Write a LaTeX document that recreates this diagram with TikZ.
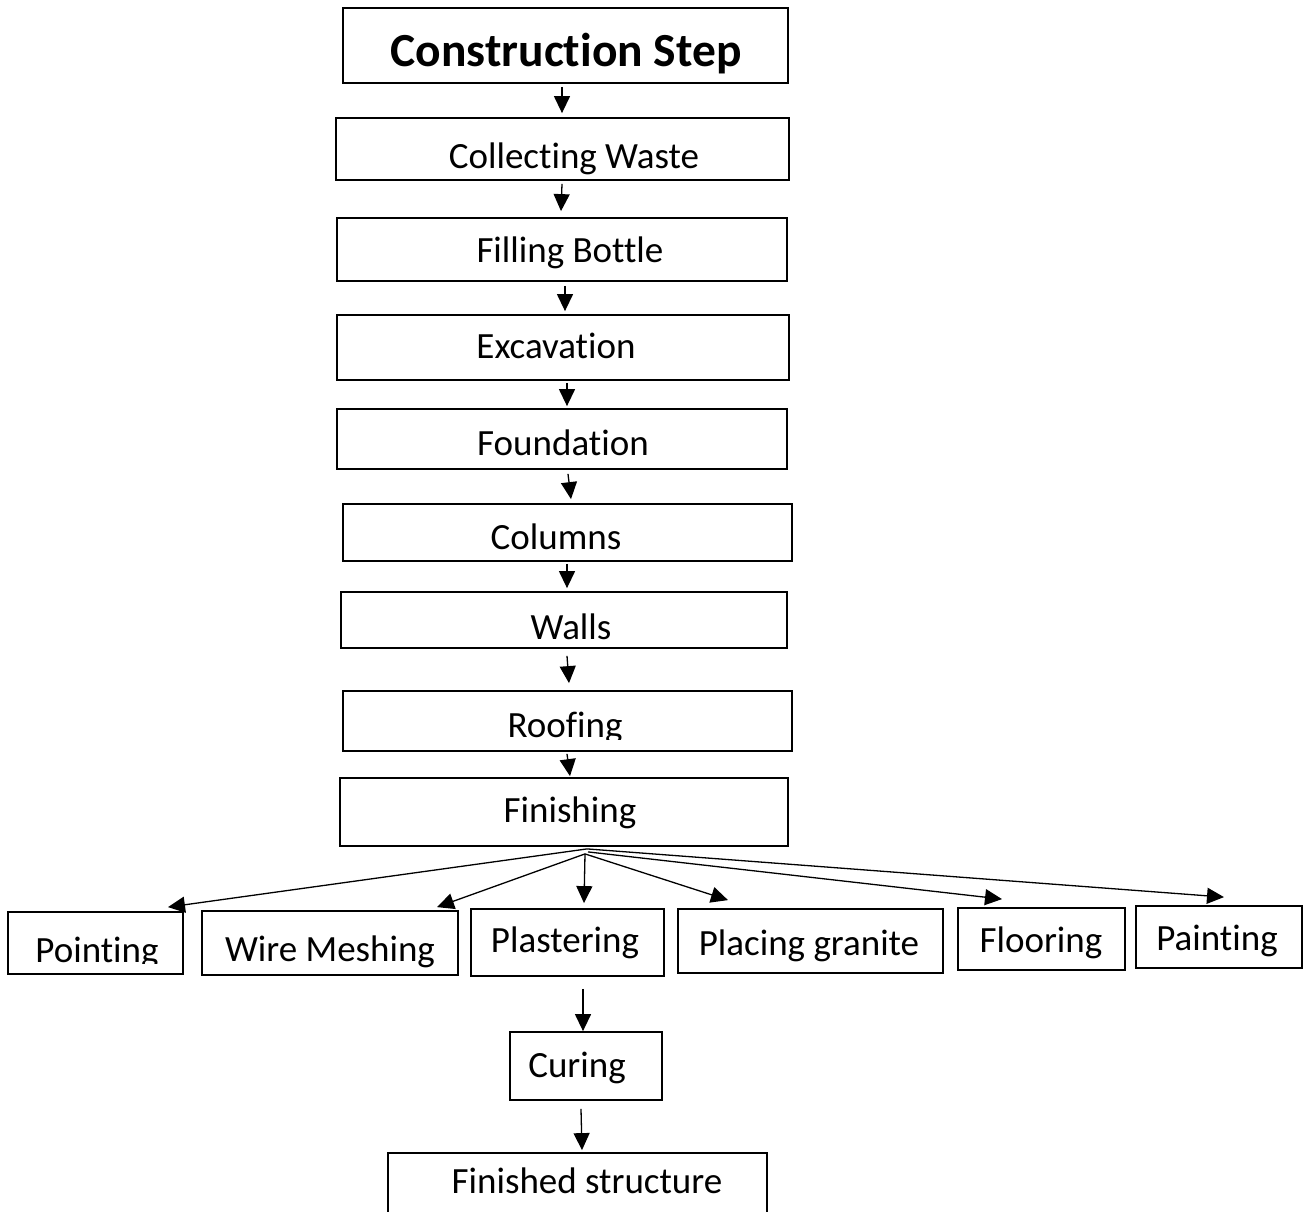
\documentclass[tikz,border=0pt]{standalone}
\usepackage{fontspec}
\setmainfont{Carlito}[RawFeature={-liga;-clig;-calt;-dlig}]
\usetikzlibrary{arrows.meta}
\begin{document}
\begin{tikzpicture}[x=1pt,y=-1pt,
  box/.style={draw, line width=1.8pt, rectangle, inner sep=0pt},
  lbl/.style={anchor=base, inner sep=0pt, font=\fontsize{37}{44}\selectfont},
  ttl/.style={anchor=base, inner sep=0pt, font=\fontsize{47.5}{57}\selectfont\bfseries},
  arr/.style={line width=1.3pt, -{Triangle[length=17pt,width=16pt]}}]
\useasboundingbox (0,0) rectangle (1304,1211);
\clip (0,0) rectangle (1304,1211);

% main column boxes
\node[box, minimum width=445pt, minimum height=75pt] (title) at (565.5,45.5) {};
\node[box, minimum width=453pt, minimum height=62pt] (cw) at (562.5,149) {};
\node[box, minimum width=450pt, minimum height=63pt] (fb) at (562,249.5) {};
\node[box, minimum width=452pt, minimum height=65pt] (ex) at (563,347.5) {};
\node[box, minimum width=450pt, minimum height=60pt] (fo) at (562,439) {};
\node[box, minimum width=449pt, minimum height=57pt] (co) at (567.5,532.5) {};
\node[box, minimum width=446pt, minimum height=56pt] (wa) at (564,620) {};
\node[box, minimum width=449pt, minimum height=60pt] (ro) at (567.5,721) {};
\node[box, minimum width=448pt, minimum height=68pt] (fi) at (564,812) {};

% finishing branches
\node[box, minimum width=175pt, minimum height=62pt] (po) at (95.5,943) {};
\node[box, minimum width=256pt, minimum height=64pt] (wm) at (330,943) {};
\node[box, minimum width=193pt, minimum height=67pt] (pl) at (567.5,942.5) {};
\node[box, minimum width=265pt, minimum height=64pt] (pg) at (810.5,941) {};
\node[box, minimum width=167pt, minimum height=62pt] (fl) at (1041.5,939) {};
\node[box, minimum width=166pt, minimum height=62pt] (pa) at (1219,937) {};

% lower chain
\node[box, minimum width=152pt, minimum height=68pt] (cu) at (586,1066) {};
\node[box, minimum width=379pt, minimum height=87pt] (fs) at (577.5,1196.5) {};

% texts
\node[ttl] (t-title) at (566,66) {Construction Step};
\node[lbl] (t-cw) at (574,168) {Collecting Waste};
\node[lbl] (t-fb) at (570,262) {Filling Bottle};
\node[lbl] (t-ex) at (556,358) {Excavation};
\node[lbl] (t-fo) at (563,455) {Foundation};
\node[lbl] (t-co) at (556,549) {Columns};
\node[lbl] (t-wa) at (571,639) {Walls};
\begin{scope}
  \clip (343,691) rectangle (792,739);
  \node[lbl] (t-ro) at (565,737) {Roofing};
\end{scope}
\node[lbl] (t-fi) at (570,822) {Finishing};
\begin{scope}
  \clip (8,912) rectangle (183,963);
  \node[lbl] (t-po) at (97,962) {Pointing};
\end{scope}
\node[lbl] (t-wm) at (330,961) {Wire Meshing};
\node[lbl] (t-pl) at (565,952) {Plastering};
\node[lbl] (t-pg) at (809,955) {Placing granite};
\node[lbl] (t-fl) at (1041,952) {Flooring};
\node[lbl] (t-pa) at (1217,950) {Painting};
\node[lbl] (t-cu) at (577,1077) {Curing};
\node[lbl] (t-fs) at (587,1193) {Finished structure};

% vertical arrows
\draw[arr] ([shift={(-3.5,3)}]title.south) -- ([shift={(-0.5,-4)}]cw.north);
\draw[arr] ([shift={(-0.5,3)}]cw.south) -- ([shift={(-1,-6)}]fb.north);
\draw[arr] ([shift={(3,4)}]fb.south) -- ([shift={(2,-3)}]ex.north);
\draw[arr] ([shift={(4,2)}]ex.south) -- ([shift={(5,-2)}]fo.north);
\draw[arr] ([shift={(6,4)}]fo.south) -- ([shift={(3.5,-4)}]co.north);
\draw[arr] ([shift={(-0.5,2)}]co.south) -- ([shift={(3,-3)}]wa.north);
\draw[arr] ([shift={(3,7)}]wa.south) -- ([shift={(1.5,-7)}]ro.north);
\draw[arr] ([shift={(-0.5,2)}]ro.south) -- ([shift={(6,-1)}]fi.north);

% fan-out
\coordinate (fanA) at ([shift={(23,2)}]fi.south);
\coordinate (fanB) at ([shift={(21,7)}]fi.south);
\coordinate (fanC) at ([shift={(24,5)}]fi.south);
\draw[arr] (fanA) -- ([shift={(72.5,-4)}]po.north);
\draw[arr] (fanB) -- ([shift={(107,-3)}]wm.north);
\draw[arr] (fanB) -- ([shift={(16.5,-5)}]pl.north);
\draw[arr] (fanB) -- ([shift={(-82.5,-8)}]pg.north);
\draw[arr] (fanC) -- ([shift={(-39.5,-8)}]fl.north);
\draw[arr] (fanA) -- ([shift={(5,-8)}]pa.north);

% lower arrows
\draw[arr] ([shift={(15.5,12)}]pl.south) -- ([shift={(-3,0)}]cu.north);
\draw[arr] ([shift={(-5,8)}]cu.south) -- ([shift={(4.5,-2)}]fs.north);
\end{tikzpicture}
\end{document}
